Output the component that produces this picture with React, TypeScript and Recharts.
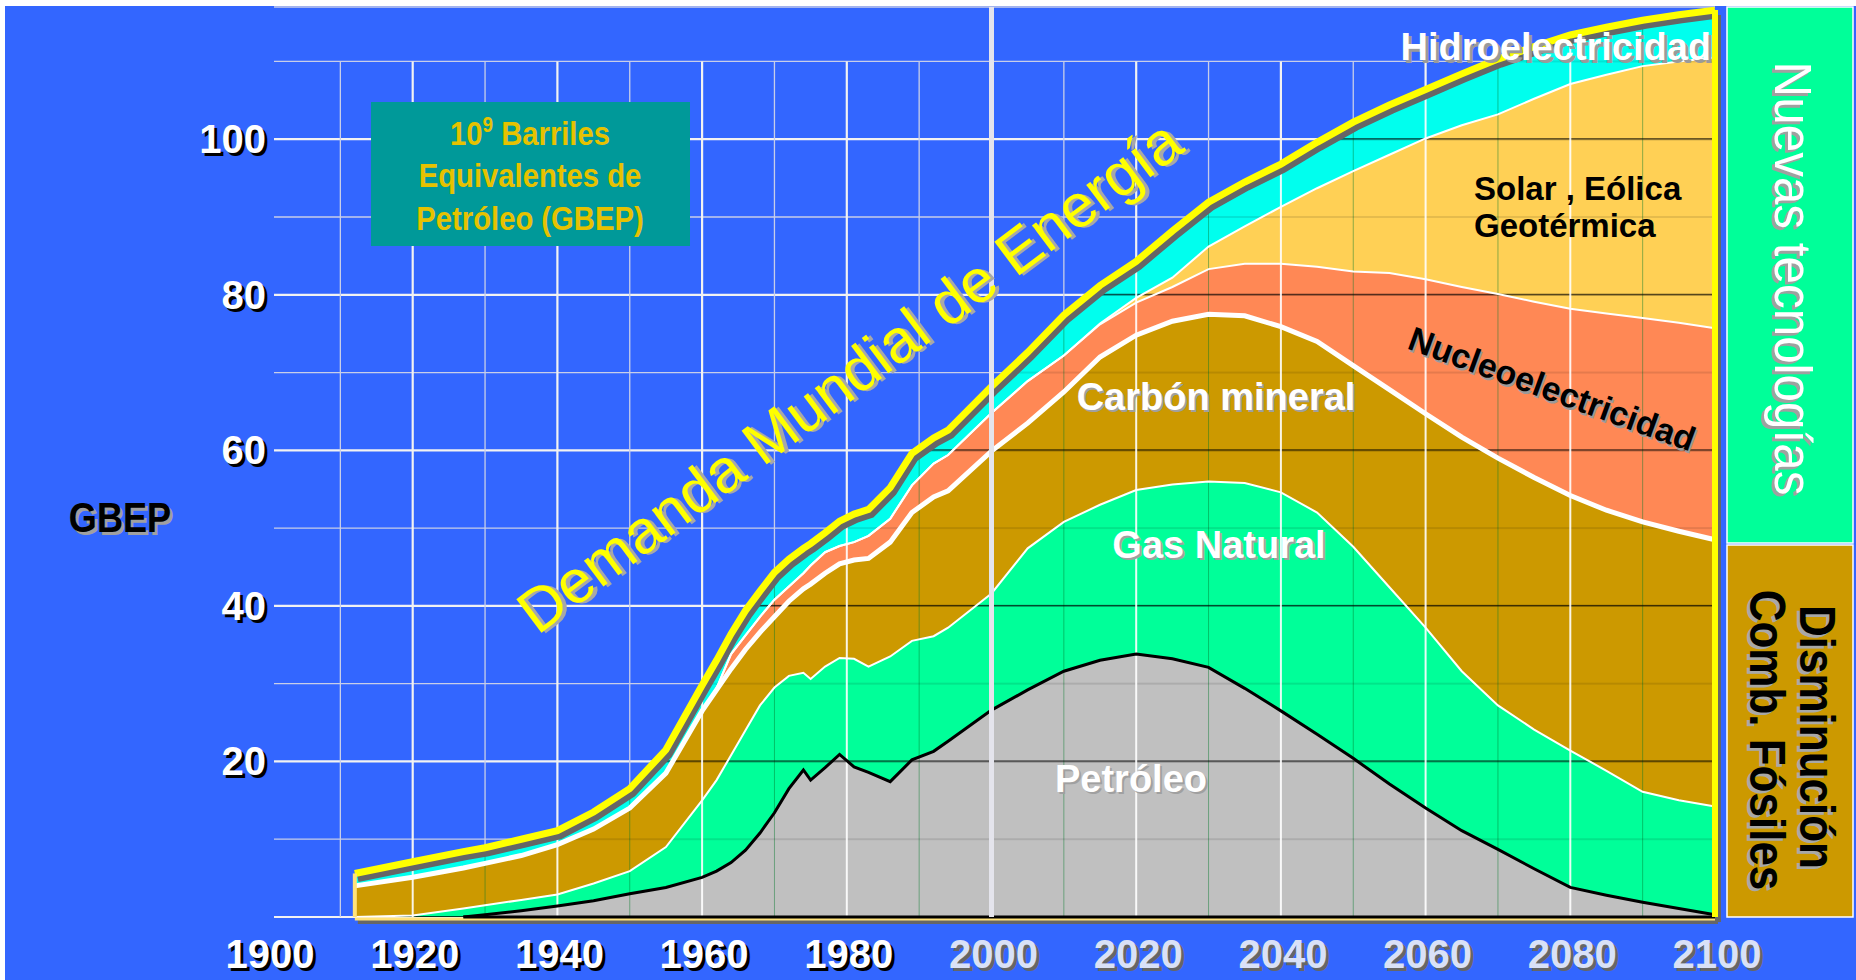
import React from "react";
import { ComposedChart, Area, Line, XAxis, YAxis, CartesianGrid, ReferenceLine } from "recharts";

// years (irregular, denser where the curves bend)
const years = [1912, 1920, 1927, 1930, 1935, 1940, 1945, 1950, 1955, 1960, 1962, 1964, 1966, 1968, 1970, 1972, 1974, 1975, 1977, 1979, 1981, 1983, 1986, 1989, 1992, 1994, 2000, 2005, 2010, 2015, 2020, 2025, 2030, 2035, 2040, 2045, 2050, 2055, 2060, 2065, 2070, 2075, 2080, 2085, 2090, 2095, 2100];

// thickness of each band, GBEP
const petroleo = [null, null, 0, 0.3, 0.8, 1.4, 2.1, 3.0, 3.8, 5.1, 5.9, 7.0, 8.6, 10.8, 13.4, 16.5, 18.9, 17.6, 19.2, 20.9, 19.3, 18.6, 17.4, 20.2, 21.3, 22.6, 26.6, 29.2, 31.6, 33.0, 33.8, 33.2, 32.1, 29.4, 26.5, 23.5, 20.4, 17.1, 14.0, 11.1, 8.7, 6.2, 3.8, 2.8, 1.9, 1.1, 0.3];
const gasNatural = [0, 0.2, 1.1, 1.2, 1.4, 1.5, 2.2, 2.9, 5.2, 9.9, 11.7, 13.8, 15.4, 16.4, 16.1, 14.5, 12.5, 13.0, 13.0, 12.4, 13.9, 13.6, 16.1, 15.3, 14.8, 14.6, 15.0, 18.2, 19.2, 20.0, 21.1, 22.4, 23.9, 26.4, 28.1, 28.5, 27.2, 25.3, 23.2, 20.5, 18.5, 17.9, 17.6, 16.0, 14.2, 13.9, 13.9];
const carbon = [4.0, 4.9, 5.2, 5.4, 5.7, 6.4, 7.0, 8.1, 9.5, 11.5, 11.6, 11.1, 10.4, 9.4, 9.1, 9.6, 10.8, 12.2, 12.0, 12.1, 12.7, 13.9, 14.7, 16.5, 17.9, 17.6, 18.3, 16.1, 16.7, 19.0, 19.9, 21.0, 21.5, 21.5, 21.3, 22.0, 23.3, 25.4, 27.5, 30.1, 31.8, 32.4, 32.8, 33.5, 34.7, 34.6, 34.3];
const nuclear = [0, 0, 0, 0, 0, 0, 0, 0, 0, 0, 0.2, 1.9, 1.8, 2.0, 2.2, 1.9, 2.0, 2.4, 2.7, 2.3, 2.3, 2.9, 3.0, 3.5, 4.3, 4.6, 4.9, 5.4, 4.7, 4.2, 4.2, 4.4, 5.8, 6.7, 8.1, 9.6, 12.1, 15.0, 17.3, 19.3, 21.1, 22.6, 24.0, 25.3, 26.2, 26.8, 27.2];
const solar = [0, 0, 0, 0, 0, 0, 0, 0, 0, 0, 0, 0, 0, 0, 0, 0, 0, 0, 0, 0, 0, 0, 0, 0, 0, 0, 0, 0, 0, 0.1, 0.6, 1.2, 2.9, 4.8, 7.3, 10.1, 12.9, 15.2, 18.1, 20.8, 23.1, 26.1, 28.9, 30.7, 32.4, 33.6, 34.8];
const hidro = [1.6, 2.0, 2.1, 2.0, 2.1, 1.8, 2.2, 2.5, 3.0, 3.3, 3.6, 2.6, 3.2, 3.3, 3.5, 3.5, 3.2, 2.8, 2.5, 3.2, 3.6, 3.4, 4.0, 4.1, 3.3, 3.2, 3.4, 3.7, 5.2, 4.9, 4.7, 6.0, 5.7, 5.7, 5.5, 5.9, 6.3, 6.4, 6.3, 6.6, 7.1, 6.7, 6.3, 6.1, 5.9, 6.0, 6.1];

const xTicks = [1900, 1910, 1920, 1930, 1940, 1950, 1960, 1970, 1980, 1990, 2000, 2010, 2020, 2030, 2040, 2050, 2060, 2070, 2080, 2090, 2100];
const yTicks = [0, 10, 20, 30, 40, 50, 60, 70, 80, 90, 100, 110];

const W = 1856;
const H = 980;
const PLOT_L = 268;
const PLOT_R = 1715;
const PLOT_T = 7;
const PLOT_B = 917;
const Y_MAX = 117;
const PX_YEAR = (PLOT_R - PLOT_L) / 200;
const PX_UNIT = (PLOT_B - PLOT_T) / Y_MAX;
const FONT = '"Liberation Sans", Arial, Helvetica, sans-serif';

const rows = years.map((year, i) => {
  const o = petroleo[i] ?? 0;
  const g = o + gasNatural[i];
  const k = g + carbon[i];
  const n = k + nuclear[i];
  const s = n + solar[i];
  return {
    year,
    petroleo: o,
    gas: gasNatural[i],
    carbon: carbon[i],
    nuclear: nuclear[i],
    solar: solar[i],
    hidro: hidro[i],
    topOil: petroleo[i] === null ? null : o,
    topGas: g,
    topCarbon: k,
    topNuclear: n,
    topSolar: s,
    total: s + hidro[i],
  };
});

const first = rows[0];
const last = rows[rows.length - 1];
const oilStart = years[petroleo.findIndex((v) => v !== null)];

function Txt({ x, y, rot = 0, sx = 1, size, bold = false, fill, shadow, anchor = "middle", off = 3, children }: any) {
  const common = { fontFamily: FONT, fontSize: size, fontWeight: bold ? 700 : 400, textAnchor: anchor };
  return (
    <g transform={`translate(${x},${y}) rotate(${rot}) scale(${sx},1)`}>
      {shadow && (
        <text x={off} y={off} fill={shadow} {...common}>
          {children}
        </text>
      )}
      <text x={0} y={0} fill={fill} {...common}>
        {children}
      </text>
    </g>
  );
}

function YTick({ y, payload }: any) {
  const v = payload.value;
  if (v === 0 || v % 20 !== 0) return <g />;
  return (
    <Txt x={PLOT_L - 2} y={y + 14} size={40} bold fill="#fff" shadow="#000" anchor="end">
      {v}
    </Txt>
  );
}

function XTick({ x, payload }: any) {
  const v = payload.value;
  if (v % 20 !== 0) return <g />;
  const future = v >= 2000;
  return (
    <Txt x={x + 2} y={PLOT_B + 51} size={40} bold fill={future ? "#D9E1F7" : "#fff"} shadow={future ? "#666" : "#000"}>
      {v}
    </Txt>
  );
}

function gridH(p: any) {
  const v = Math.round((PLOT_B - p.y1) / PX_UNIT);
  const major = v % 20 === 0;
  return (
    <line key={p.key} x1={p.x1 + 6} x2={p.x2} y1={p.y1} y2={p.y2} stroke={major ? "#F2F2F2" : "#C8CEE8"} strokeWidth={major ? 2.2 : 1.3} />
  );
}

function gridV(p: any) {
  const yr = Math.round(1900 + (p.x1 - PLOT_L) / PX_YEAR);
  if (yr === 1900) return <g key={p.key} />;
  const major = yr % 20 === 0;
  return (
    <line key={p.key} x1={p.x1} x2={p.x2} y1={PLOT_B - 110 * PX_UNIT} y2={p.y2} stroke={major ? "#F2F2F2" : "#C8CEE8"} strokeWidth={major ? 2.2 : 1.3} />
  );
}

export default function App() {
  const tw = 20 * PX_YEAR;
  const th = 20 * PX_UNIT;
  return (
    <div style={{ position: "absolute", left: 0, top: 0, width: W, height: H, background: "#fff", overflow: "hidden" }}>
      <style>{`.shadow-line{transform:translate(3px,5px)} .down-2{transform:translate(0px,2px)}`}</style>
      <div style={{ position: "absolute", left: 5, top: 6, right: 0, bottom: 0, background: "#3366FF" }} />
      <div style={{ position: "absolute", left: 0, top: 0 }}>
        <ComposedChart width={W} height={H} data={rows} margin={{ top: PLOT_T, right: W - PLOT_R, bottom: 0, left: 0 }}>
          <CartesianGrid horizontal={gridH} vertical={gridV} />
          <XAxis
            dataKey="year"
            type="number"
            domain={[1900, 2100]}
            ticks={xTicks}
            interval={0}
            height={H - PLOT_B}
            axisLine={false}
            tickLine={false}
            tick={<XTick />}
          />
          <YAxis
            type="number"
            domain={[0, Y_MAX]}
            ticks={yTicks}
            interval={0}
            width={PLOT_L}
            axisLine={false}
            tickLine={false}
            tick={<YTick />}
          />
          <Area type="linear" dataKey="petroleo" stackId="e" fill="#C0C0C0" fillOpacity={1} stroke="none" isAnimationActive={false} />
          <Area type="linear" dataKey="gas" stackId="e" fill="#00FF99" fillOpacity={1} stroke="none" isAnimationActive={false} />
          <Area type="linear" dataKey="carbon" stackId="e" fill="#CC9900" fillOpacity={1} stroke="none" isAnimationActive={false} />
          <Area type="linear" dataKey="nuclear" stackId="e" fill="#FF8855" fillOpacity={1} stroke="none" isAnimationActive={false} />
          <Area type="linear" dataKey="solar" stackId="e" fill="#FFD055" fillOpacity={1} stroke="none" isAnimationActive={false} />
          <Area type="linear" dataKey="hidro" stackId="e" fill="#00FFEE" fillOpacity={1} stroke="none" isAnimationActive={false} />
          <Area type="linear" dataKey="total" fill="url(#innerGrid)" fillOpacity={1} stroke="none" isAnimationActive={false} />
          <Line type="linear" dataKey="topOil" stroke="#000" strokeWidth={3} dot={false} activeDot={false} isAnimationActive={false} />
          <Line type="linear" dataKey="topGas" stroke="#fff" strokeWidth={2} dot={false} activeDot={false} isAnimationActive={false} />
          <Line type="linear" dataKey="topCarbon" stroke="#fff" strokeWidth={5} dot={false} activeDot={false} isAnimationActive={false} />
          <Line type="linear" dataKey="topNuclear" stroke="#fff" strokeWidth={2} dot={false} activeDot={false} isAnimationActive={false} />
          <Line type="linear" dataKey="topSolar" stroke="#fff" strokeWidth={2} dot={false} activeDot={false} isAnimationActive={false} />
          <Line type="linear" dataKey="total" className="shadow-line" stroke="#666" strokeWidth={7} dot={false} activeDot={false} isAnimationActive={false} />
          <Line type="linear" dataKey="total" stroke="#FFFF00" strokeWidth={7} dot={false} activeDot={false} isAnimationActive={false} />
          <ReferenceLine segment={[{ x: first.year, y: 0 }, { x: last.year, y: 0 }]} stroke="#666" strokeWidth={4} className="shadow-line" />
          <ReferenceLine segment={[{ x: first.year, y: 0 }, { x: last.year, y: 0 }]} stroke="#FFE27A" strokeWidth={3} className="down-2" />
          <ReferenceLine segment={[{ x: oilStart, y: 0 }, { x: last.year, y: 0 }]} stroke="#000" strokeWidth={3} />
          <ReferenceLine segment={[{ x: last.year, y: 0 }, { x: last.year, y: last.total }]} stroke="#666" strokeWidth={6} className="shadow-line" />
          <ReferenceLine segment={[{ x: last.year, y: 0 }, { x: last.year, y: last.total }]} stroke="#FFFF00" strokeWidth={6} />
          <ReferenceLine segment={[{ x: first.year, y: 0 }, { x: first.year, y: first.total }]} stroke="#FFE27A" strokeWidth={4} />
          <ReferenceLine x={2000} stroke="#E4E4EC" strokeWidth={5} />
        </ComposedChart>
      </div>
      <svg width={W} height={H} style={{ position: "absolute", left: 0, top: 0 }}>
        <defs>
          <pattern id="innerGrid" patternUnits="userSpaceOnUse" x={PLOT_L - 1} y={PLOT_B - 1} width={tw} height={th}>
            <rect x={tw / 2 + 0.5} y={0} width={1} height={th} fill="rgba(0,120,40,0.45)" />
            <rect x={0} y={th / 2 + 0.5} width={tw} height={1} fill="rgba(0,0,0,0.2)" />
            <rect x={0} y={0} width={tw} height={1.5} fill="rgba(0,0,0,0.75)" />
            <rect x={0} y={0} width={2} height={th} fill="rgba(255,255,255,0.9)" />
          </pattern>
        </defs>
        <rect x={1727} y={7} width={126} height={536} fill="#00FF99" stroke="#fff" strokeWidth={1.5} />
        <rect x={1727} y={545} width={126} height={372} fill="#CC9900" stroke="#fff" strokeWidth={1.5} />
        <rect x={371} y={102} width={319} height={144} fill="#009999" />
        <Txt x={530} y={145} sx={0.86} size={34} bold fill="#E6C200">
          10<tspan dy={-13} fontSize={22}>9</tspan>
          <tspan dy={13}> Barriles</tspan>
        </Txt>
        <Txt x={530} y={187} sx={0.86} size={34} bold fill="#E6C200">
          Equivalentes de
        </Txt>
        <Txt x={530} y={230} sx={0.86} size={34} bold fill="#E6C200">
          Petróleo (GBEP)
        </Txt>
        <Txt x={120} y={532} sx={0.86} size={42} bold fill="#000" shadow="#A0A0A0">
          GBEP
        </Txt>
        <Txt x={862} y={393} rot={-36.8} size={61} fill="#FFFF00" shadow="#A8A8A8">
          Demanda Mundial de Energía
        </Txt>
        <Txt x={1711} y={60} size={38} bold fill="#fff" shadow="#9A9A9A" anchor="end">
          Hidroelectricidad
        </Txt>
        <Txt x={1474} y={200} size={33} bold fill="#000" anchor="start">
          Solar , Eólica
        </Txt>
        <Txt x={1474} y={237} size={33} bold fill="#000" anchor="start">
          Geotérmica
        </Txt>
        <Txt x={1548} y={400} rot={20} size={34} bold fill="#000" shadow="#9A9A9A" off={2}>
          Nucleoelectricidad
        </Txt>
        <Txt x={1216} y={410} size={38} bold fill="#fff" shadow="#A0A0A0" off={2}>
          Carbón mineral
        </Txt>
        <Txt x={1219} y={558} size={38} bold fill="#fff" shadow="#A0A0A0" off={2}>
          Gas Natural
        </Txt>
        <Txt x={1131} y={792} size={38} bold fill="#fff" shadow="#A0A0A0" off={2}>
          Petróleo
        </Txt>
        <Txt x={1775} y={278.5} rot={90} sx={0.95} size={52} fill="#fff" shadow="#A0A0A0">
          Nuevas tecnologías
        </Txt>
        <Txt x={1800} y={737} rot={90} sx={0.88} size={50} bold fill="#000" shadow="#A8A8A8">
          Disminución
        </Txt>
        <Txt x={1750} y={740} rot={90} sx={0.88} size={50} bold fill="#000" shadow="#A8A8A8">
          Comb. Fósiles
        </Txt>
      </svg>
    </div>
  );
}
